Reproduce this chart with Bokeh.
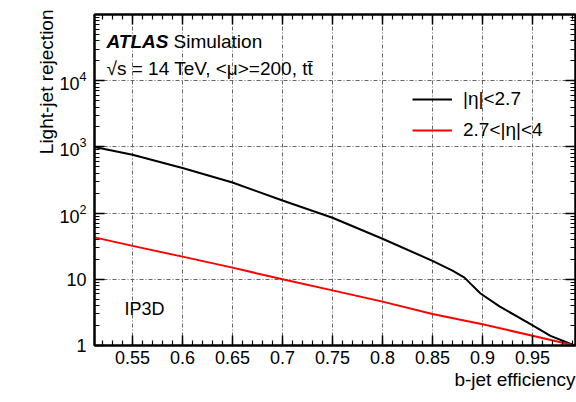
from bokeh.plotting import figure
from bokeh.models import (Range1d, FixedTicker, LinearAxis, LogAxis, LogTickFormatter,
                          Title, Legend, LegendItem)
from bokeh.core.properties import value
from bokeh.embed import file_html
from bokeh.resources import INLINE

# ---- data ----
eff_black = [0.512, 0.55, 0.60, 0.65, 0.70, 0.75, 0.80, 0.85, 0.87, 0.882, 0.887, 0.898, 0.917, 0.948, 0.968, 0.992]
rej_black = [1000, 760, 480, 290, 155, 85, 41, 19, 13.5, 10.6, 8.9, 6.1, 3.9, 2.1, 1.4, 1.0]

eff_red = [0.512, 0.55, 0.60, 0.65, 0.70, 0.75, 0.80, 0.85, 0.90, 0.95, 0.992]
rej_red = [43, 32, 22, 15, 10, 6.8, 4.6, 3.0, 2.1, 1.4, 1.0]

series_names = ["|\u03b7|<2.7", "2.7<|\u03b7|<4"]

x_ticks = [0.55, 0.6, 0.65, 0.7, 0.75, 0.8, 0.85, 0.9, 0.95]
x_tick_labels = ["0.55", "0.6", "0.65", "0.7", "0.75", "0.8", "0.85", "0.9", "0.95"]
y_ticks = [1, 10, 100, 1000, 10000]
y_plain_labels = {1: "1", 10: "10"}

FONT = "Liberation Sans"

x_minor = [round(0.51 + 0.01 * i, 2) for i in range(49)]
y_minor = [m * 10 ** e for e in range(5) for m in range(2, 10)]

p = figure(width=576, height=402, x_range=Range1d(0.512, 0.993), y_range=Range1d(1, 1e5),
           y_axis_type="log", output_backend="svg", toolbar_location=None,
           min_border_left=94, min_border_right=1, min_border_top=14, min_border_bottom=57)
p.background_fill_color = "white"
p.border_fill_color = "white"
p.outline_line_color = "black"
p.outline_line_width = 2

xt = FixedTicker(ticks=x_ticks, minor_ticks=x_minor)
yt = FixedTicker(ticks=y_ticks, minor_ticks=y_minor)


def style(ax, labels=True):
    ax.axis_line_color = "black"
    ax.axis_line_width = 2
    ax.major_tick_in = 10
    ax.major_tick_out = 0
    ax.minor_tick_in = 5
    ax.minor_tick_out = 0
    ax.major_tick_line_color = "black"
    ax.minor_tick_line_color = "black"
    ax.major_tick_line_width = 1.5
    ax.minor_tick_line_width = 1.2
    ax.major_label_text_font = FONT
    ax.major_label_text_font_size = "18px"
    ax.major_label_text_color = "black"
    if not labels:
        ax.major_label_text_font_size = "1px"
        ax.major_label_text_alpha = 0
        ax.major_label_standoff = 0


xa = p.xaxis[0]
xa.ticker = xt
xa.major_label_overrides = {t: l for t, l in zip(x_ticks, x_tick_labels)}
xa.major_label_standoff = 5
style(xa)

ya = p.yaxis[0]
ya.ticker = yt
ya.formatter = LogTickFormatter()
ya.major_label_overrides = y_plain_labels
ya.major_label_standoff = 8
style(ya)

top = LinearAxis(ticker=FixedTicker(ticks=x_ticks, minor_ticks=x_minor))
style(top, labels=False)
p.add_layout(top, "above")
right = LogAxis(ticker=FixedTicker(ticks=y_ticks, minor_ticks=y_minor))
style(right, labels=False)
p.add_layout(right, "right")

p.xgrid.ticker = xt
p.ygrid.ticker = yt
for g in (p.xgrid[0], p.ygrid[0]):
    g.grid_line_color = "#666666"
    g.grid_line_dash = "4 2 1 2"
    g.grid_line_width = 1

# axis titles (ROOT style, at the frame ends); invisible spacers push them outward
p.add_layout(Title(text="Light-jet rejection", align="right", offset=-5, standoff=0,
                   text_font=FONT, text_font_size="19px", text_font_style="normal",
                   text_color="black"), "left")
p.add_layout(Title(text=".", text_font_size="10px", text_alpha=0, standoff=18), "left")
p.add_layout(Title(text="b-jet efficiency", align="right", standoff=0,
                   text_font=FONT, text_font_size="19px", text_font_style="normal",
                   text_color="black"), "below")
p.add_layout(Title(text=".", text_font_size="8px", text_alpha=0, standoff=0), "below")

r1 = p.line(eff_black, rej_black, line_color="black", line_width=2)
r2 = p.line(eff_red, rej_red, line_color="#ff0000", line_width=2)

legend = Legend(items=[LegendItem(label=series_names[0], renderers=[r1]),
                       LegendItem(label=series_names[1], renderers=[r2])],
                location=(318, 204))
legend.border_line_color = None
legend.background_fill_alpha = 0
legend.padding = 0
legend.margin = 0
legend.spacing = 9
legend.glyph_width = 40
legend.glyph_height = 20
legend.label_height = 20
legend.label_standoff = 11
legend.label_text_font = FONT
legend.label_text_font_size = "19px"
legend.label_text_color = "black"
p.add_layout(legend)

p.text(x=[0.524], y=[10 ** 4.585], text=["ATLAS"], text_font=value(FONT),
       text_font_style="bold italic", text_font_size="19px", text_baseline="middle", text_color="black")
p.text(x=[0.591], y=[10 ** 4.585], text=["Simulation"], text_font=value(FONT),
       text_font_style="normal", text_font_size="19px", text_baseline="middle", text_color="black")
p.text(x=[0.524], y=[10 ** 4.18], text=["\u221as = 14 TeV, <\u03bc>=200, tt\u0304"], text_font=value(FONT),
       text_font_style="normal", text_font_size="19px", text_baseline="middle", text_color="black")
p.text(x=[0.542], y=[10 ** 0.545], text=["IP3D"], text_font=value(FONT),
       text_font_style="normal", text_font_size="18px", text_baseline="middle", text_color="black")

open("out.html", "w").write(file_html(p, INLINE))
